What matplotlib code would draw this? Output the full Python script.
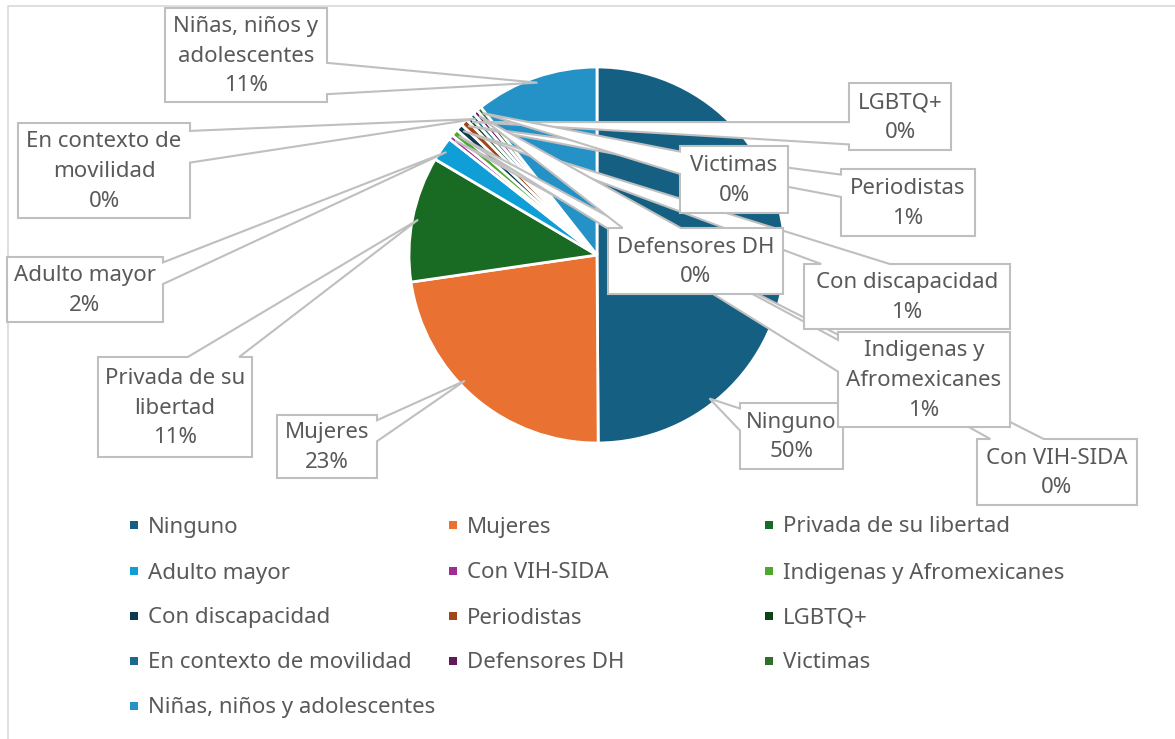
import matplotlib
matplotlib.use("Agg")
import matplotlib.pyplot as plt
from matplotlib.patches import Polygon
import numpy as np


W, H = 1175, 739

categories = [
    "Ninguno", "Mujeres", "Privada de su libertad", "Adulto mayor", "Con VIH-SIDA",
    "Indigenas y Afromexicanes", "Con discapacidad", "Periodistas", "LGBTQ+",
    "En contexto de movilidad", "Defensores DH", "Victimas", "Niñas, niños y adolescentes",
]
shares = [49.9, 22.8, 10.8, 2.1, 0.4, 0.6, 0.6, 0.6, 0.4, 0.4, 0.4, 0.4, 10.6]
colors = [
    "#156082", "#E97132", "#196B24", "#0F9ED5", "#A02B93", "#4EA72E", "#0D3A4F",
    "#A0461A", "#0F4317", "#1B6A8E", "#611A59", "#31702A", "#2592C7",
]
# how the category names wrap inside the callouts
label_text = [
    "Ninguno", "Mujeres", "Privada de su\nlibertad", "Adulto mayor", "Con VIH-SIDA",
    "Indigenas y\nAfromexicanes", "Con discapacidad", "Periodistas", "LGBTQ+",
    "En contexto de\nmovilidad", "Defensores DH", "Victimas", "Niñas, niños y\nadolescentes",
]

# callout boxes in pixels (left, top, right, bottom)
boxes = [
    (740, 403, 843, 469), (277, 415, 377, 478), (98, 357, 252, 457), (7, 257, 163, 322),
    (977, 439, 1137, 505), (838, 332, 1010, 427), (804, 264, 1010, 329), (841, 169, 975, 236),
    (849, 83, 951, 150), (18, 123, 190, 218), (608, 228, 783, 294), (680, 146, 788, 213),
    (165, 8, 327, 102),
]
# where along each slice the callout points (0 = start, 1 = end)
tip_frac = [0.79, 0.57, 0.5, 0.5, 0.5, 0.5, 0.5, 0.5, 0.5, 0.5, 0.5, 0.5, 0.5]

CX, CY, R = 597, H - 255, 188
TEXT = "#595959"
EDGE = "#BFBFBF"
FS = 16

plt.rcParams["font.family"] = ["Noto Sans", "DejaVu Sans"]


def callout_shape(box, tip):
    l, t, r, b = box
    x0, x1, y0, y1 = l, r, H - b, H - t
    cx, cy = (x0 + x1) / 2, (y0 + y1) / 2
    dx = (tip[0] - cx) / ((x1 - x0) / 2)
    dy = (tip[1] - cy) / ((y1 - y0) / 2)

    sides = [((x0, y0), (x1, y0)), ((x1, y0), (x1, y1)),
             ((x1, y1), (x0, y1)), ((x0, y1), (x0, y0))]
    if abs(dx) > abs(dy):
        pick = 1 if dx > 0 else 3
    else:
        pick = 2 if dy > 0 else 0

    verts = []
    for k, (p, q) in enumerate(sides):
        verts.append(p)
        if k != pick:
            continue
        p, q = np.array(p, float), np.array(q, float)
        d = q - p
        s = np.dot(np.array(tip) - p, d) / np.dot(d, d)
        a, c = (1 / 12, 5 / 12) if s < 0.5 else (7 / 12, 11 / 12)
        verts.append(tuple(p + a * d))
        verts.append(tuple(tip))
        verts.append(tuple(p + c * d))
    return verts


fig = plt.figure(figsize=(W / 100, H / 100), dpi=100)
ax = fig.add_axes([0, 0, 1, 1])

wedges, _ = ax.pie(
    shares, colors=colors, center=(CX, CY), radius=R,
    startangle=90, counterclock=False,
    wedgeprops=dict(edgecolor="white", linewidth=2),
)

# callouts with name and rounded percent
for i, w in enumerate(wedges):
    t1, t2 = w.theta1, w.theta2
    ang = np.deg2rad(t2 - tip_frac[i] * (t2 - t1))
    tip = (CX + 0.97 * R * np.cos(ang), CY + 0.97 * R * np.sin(ang))
    verts = callout_shape(boxes[i], tip)
    ax.add_patch(Polygon(verts, closed=True, facecolor="white", edgecolor=EDGE,
                         linewidth=1.5, zorder=3 + i * 0.01))
    l, t, r, b = boxes[i]
    ax.text((l + r) / 2, H - (t + b) / 2 - 1, f"{label_text[i]}\n{round(shares[i])}%",
            ha="center", va="center", fontsize=FS, color=TEXT, linespacing=1.55,
            zorder=5)

# legend, three per row
leg_x = [134, 453, 769]
leg_y = [525, 571, 616, 661, 706]
for i, name in enumerate(categories):
    x = leg_x[i % 3]
    y = H - leg_y[i // 3]
    ax.scatter([x], [y], marker="s", s=30, color=colors[i], linewidths=0)
    ax.text(x + 14, y - 2, name, ha="left", va="center", fontsize=FS, color=TEXT)

# chart area border
ax.plot([7.5, 7.5, W + 5], [-5, H - 5.5, H - 5.5], color="#D9D9D9", linewidth=1.2)

ax.set_xlim(0, W)
ax.set_ylim(0, H)
ax.set_aspect("auto")
ax.axis("off")

fig.savefig("out.png", dpi=100, facecolor="white")
